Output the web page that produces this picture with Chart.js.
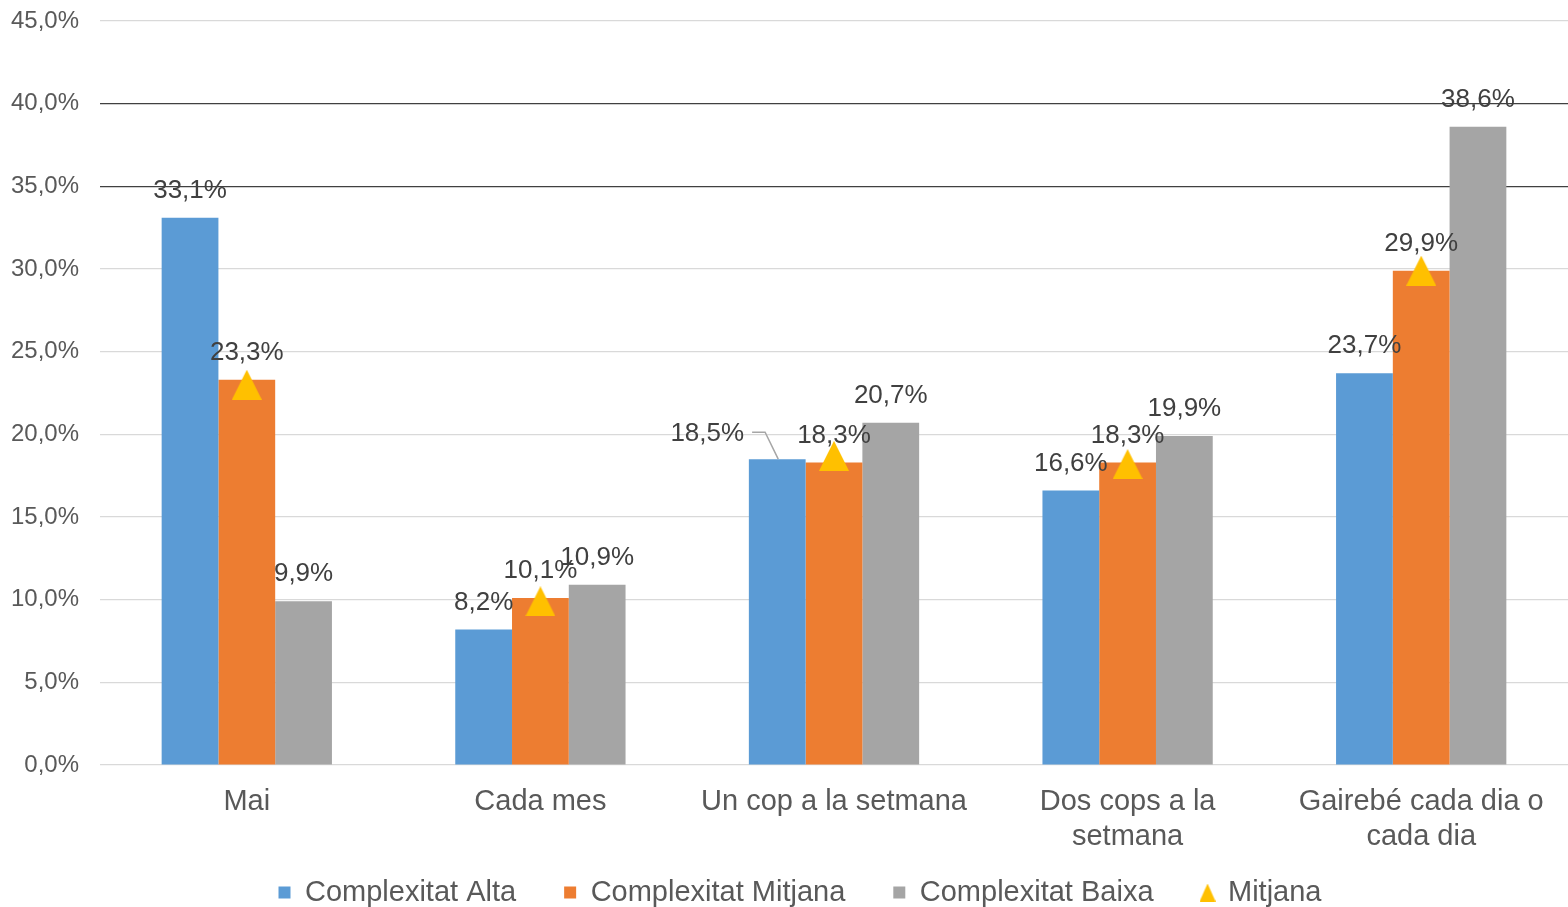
<!DOCTYPE html>
<html><head><meta charset="utf-8">
<script src="https://cdn.jsdelivr.net/npm/chart.js@4/dist/chart.umd.min.js"></script>
<style>html,body{margin:0;padding:0;background:#fff;overflow:hidden}</style>
</head><body>
<canvas id="c" width="1568" height="907"></canvas>
<script>
// ---- data ----
const categories = [['Mai'], ['Cada mes'], ['Un cop a la setmana'], ['Dos cops a la', 'setmana'], ['Gairebé cada dia o', 'cada dia']];
const seriesNames = ['Complexitat Alta', 'Complexitat Mitjana', 'Complexitat Baixa', 'Mitjana'];
const alta = [33.1, 8.2, 18.5, 16.6, 23.7];
const mitjanaComplex = [23.3, 10.1, 18.3, 18.3, 29.9];
const baixa = [9.9, 10.9, 20.7, 19.9, 38.6];
const mitjana = [23.0, 9.9, 18.7, 18.2, 29.9];
const yMin = 0, yMax = 45, yStep = 5;

// ---- styles ----
const FONT = '"Liberation Sans", Arial, sans-serif';
const colors = ['#5B9BD5', '#ED7D31', '#A5A5A5', '#FFC000'];
const fmt = v => v.toFixed(1).replace('.', ',') + '%';

// do not clip the two-line category labels to the axis box
Chart.CategoryScale.prototype._computeLabelArea = function () { return undefined; };

function triCanvas(w, h, color) {
  const c = document.createElement('canvas');
  c.width = w; c.height = h;
  const x = c.getContext('2d');
  x.fillStyle = color;
  x.beginPath(); x.moveTo(w / 2, 0); x.lineTo(w, h); x.lineTo(0, h); x.closePath(); x.fill();
  return c;
}
const bigTri = triCanvas(30, 30, colors[3]);
const smallTri = triCanvas(16, 18, colors[3]);

const labelTweaks = { '0-2': { dx: -70, dy: 2, leader: true } };

const barLabels = {
  id: 'barLabels',
  afterLayout(chart) {
    if (chart.legend) { chart.legend.left += 16; chart.legend.right += 16; }
  },
  beforeDatasetsDraw(chart) { chart.$barsDone = 0; },
  afterDatasetDraw(chart, args) {
    if (args.meta.type !== 'bar') return;
    chart.$barsDone++;
    if (chart.$barsDone < 3) return;
    const ctx = chart.ctx;
    ctx.save();
    ctx.font = '26px ' + FONT;
    ctx.fillStyle = '#404040';
    ctx.textAlign = 'center';
    ctx.textBaseline = 'middle';
    [0, 1, 2].forEach(di => {
      const meta = chart.getDatasetMeta(di);
      meta.data.forEach((el, i) => {
        const t = labelTweaks[di + '-' + i] || { dx: 0, dy: 0 };
        const x = el.x + t.dx, y = el.y - 27 + t.dy;
        const txt = fmt(chart.data.datasets[di].data[i]);
        ctx.fillText(txt, x, y);
        if (t.leader) {
          const w = ctx.measureText(txt).width;
          ctx.save();
          ctx.strokeStyle = '#A6A6A6'; ctx.lineWidth = 1.5;
          ctx.beginPath();
          ctx.moveTo(x + w / 2 + 8, y - 2);
          ctx.lineTo(x + w / 2 + 21, y - 2);
          ctx.lineTo(el.x + 1, el.y);
          ctx.stroke();
          ctx.restore();
        }
      });
    });
    ctx.restore();
  }
};

new Chart(document.getElementById('c'), {
  type: 'bar',
  data: {
    labels: categories,
    datasets: [
      { label: seriesNames[0], data: alta, backgroundColor: colors[0], order: 1, pointStyle: 'rect', categoryPercentage: 0.58, barPercentage: 1.0 },
      { label: seriesNames[1], data: mitjanaComplex, backgroundColor: colors[1], order: 1, pointStyle: 'rect', categoryPercentage: 0.58, barPercentage: 1.0 },
      { label: seriesNames[2], data: baixa, backgroundColor: colors[2], order: 1, pointStyle: 'rect', categoryPercentage: 0.58, barPercentage: 1.0 },
      { label: seriesNames[3], data: mitjana, type: 'line', showLine: false, order: 0, clip: false,
        pointStyle: bigTri, pointRadius: 15, backgroundColor: colors[3], borderColor: colors[3] }
    ]
  },
  options: {
    responsive: false,
    devicePixelRatio: 1,
    animation: false,
    layout: { autoPadding: false, padding: { top: 21, left: 0, right: 0, bottom: -10 } },
    plugins: {
      tooltip: { enabled: false },
      legend: {
        position: 'bottom',
        labels: {
          usePointStyle: true,
          boxWidth: 12, boxHeight: 12,
          padding: 48,
          color: '#595959',
          font: { family: FONT, size: 29 },
          generateLabels(chart) {
            const items = Chart.defaults.plugins.legend.labels.generateLabels(chart);
            items.sort((a, b) => a.datasetIndex - b.datasetIndex);
            items.forEach(it => {
              const i = it.datasetIndex;
              if (i < 3) { it.pointStyle = 'rect'; it.fillStyle = colors[i]; it.strokeStyle = colors[i]; it.lineWidth = 0; }
              else { it.pointStyle = smallTri; }
            });
            return items;
          }
        }
      }
    },
    scales: {
      x: {
        border: { display: false },
        grid: { display: true, drawOnChartArea: false, drawTicks: true, tickLength: 20, tickColor: 'rgba(0,0,0,0)' },
        ticks: { color: '#595959', font: { family: FONT, size: 29, lineHeight: 1.2 }, padding: 0, maxRotation: 0, autoSkip: false },
        afterFit(s) { s.height = 65; s.paddingLeft = 0; s.paddingRight = 0; }
      },
      y: {
        min: yMin, max: yMax,
        border: { display: false },
        grid: {
          drawTicks: true,
          tickLength: 21,
          tickColor: 'rgba(0,0,0,0)',
          lineWidth: 1.2,
          color: c => (c.tick && (c.tick.value === 40 || c.tick.value === 35)) ? '#404040' : '#D9D9D9'
        },
        ticks: { stepSize: yStep, color: '#595959', font: { family: FONT, size: 24 }, padding: 0, callback: v => fmt(v) },
        afterFit(s) { s.width = 100; }
      }
    }
  },
  plugins: [barLabels]
});
</script>
</body></html>
